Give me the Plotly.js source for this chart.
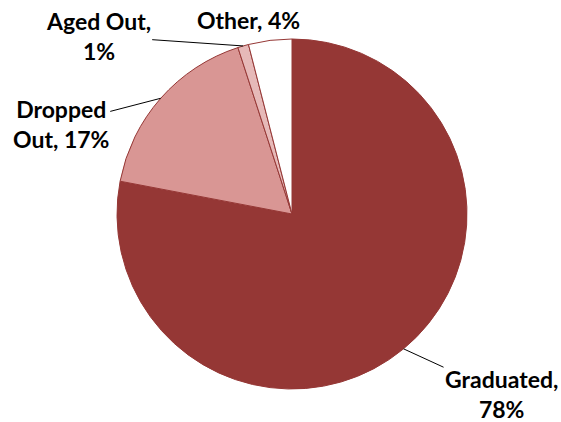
<!DOCTYPE html>
<html>
<head>
<meta charset="utf-8">
<script src="https://cdn.plot.ly/plotly-3.0.1.min.js"></script>
<style>html,body{margin:0;padding:0;background:#fff;}#chart{width:561px;height:422px;}</style>
</head>
<body>
<div id="chart"></div>
<script>
const categories = ["Graduated", "Dropped Out", "Aged Out", "Other"];
const values = [78, 17, 1, 4];
const labelTexts = ["Graduated,<br>78%", "Dropped<br>Out, 17%", "Aged Out,<br>1%", "Other, 4%"];
const colors = ["#953735", "#D99694", "#E6B9B8", "#FFFFFF"];

// label offsets (pixels) from slice edge midpoint; showArrow per slice
const labelOffsets = [[98, 45, true], [-100, 26, true], [-145, -10, true], [-22, -20, false]];

const total = values.reduce((a, b) => a + b, 0);
let cum = 0;
const annotations = values.map((v, i) => {
  const mid = (cum + v / 2) / total * 2 * Math.PI;
  cum += v;
  const x = 0.5 + 0.5 * Math.sin(mid);
  const y = 0.5 + 0.5 * Math.cos(mid);
  const [ax, ay, arrow] = labelOffsets[i];
  const base = {
    xref: "paper", yref: "paper", x: x, y: y,
    text: "<b>" + labelTexts[i] + "</b>",
    font: {family: "Lato, 'Open Sans', sans-serif", size: 23, color: "#000"},
    align: "center"
  };
  if (arrow) {
    return Object.assign(base, {showarrow: true, ax: ax, ay: ay, arrowhead: 0, arrowwidth: 1,
      arrowcolor: "#000", standoff: 0});
  }
  return Object.assign(base, {showarrow: false, xanchor: "center", yanchor: "middle", xshift: ax, yshift: -ay});
});

const data = [{
  type: "pie",
  labels: categories,
  values: values,
  sort: false,
  direction: "clockwise",
  rotation: 0,
  textinfo: "none",
  hoverinfo: "label+percent",
  marker: {colors: colors, line: {color: "#953735", width: 1}},
  showlegend: false
}];

const layout = {
  width: 561, height: 422,
  margin: {l: 117, r: 94, t: 39, b: 33},
  paper_bgcolor: "#fff",
  plot_bgcolor: "#fff",
  showlegend: false,
  annotations: annotations
};

Plotly.newPlot("chart", data, layout, {displayModeBar: false, staticPlot: true});
</script>
</body>
</html>
